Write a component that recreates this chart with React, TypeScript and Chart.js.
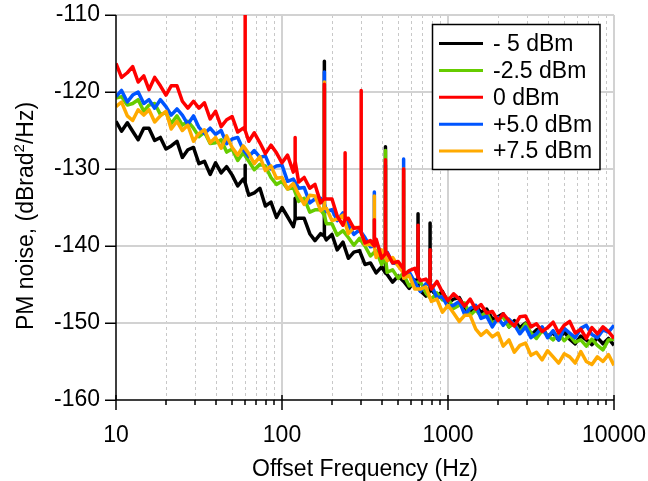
import React, { useEffect, useRef } from 'react';
import { Chart, registerables } from 'chart.js';

Chart.register(...registerables);

// ---------- data ----------
const FREQ = [
  10, 10.8, 11.7, 12.6, 13.6, 14.7, 15.8, 17.1, 18.5, 20, 21.5, 23.3, 25.1, 27.1, 29.3,
  31.6, 34.1, 36.9, 39.8, 43, 46.4, 50.1, 54.1, 58.4, 63.1, 68.1, 73.6, 79.4, 85.8, 92.6,
  100, 108, 117, 126, 136, 147, 158, 171, 185, 200, 215, 233, 251, 271, 293,
  316, 341, 369, 398, 430, 464, 501, 541, 584, 631, 681, 736, 794, 858, 926,
  1000, 1080, 1170, 1260, 1360, 1470, 1580, 1710, 1850, 2000, 2150, 2330, 2510, 2710, 2930,
  3160, 3410, 3690, 3980, 4300, 4640, 5010, 5410, 5840, 6310, 6810, 7360, 7940, 8580, 9260,
  10000,
];

const SERIES_LABELS = ['- 5 dBm', '-2.5 dBm', '0 dBm', '+5.0 dBm', '+7.5 dBm'];
const SERIES_COLORS = ['#000000', '#66cc00', '#ff0000', '#0055ff', '#ffaa00'];
// drawing order (lower = on top)
const SERIES_ORDER = [4, 3, 0, 2, 1];

const M5_DBM = [
  -123.8, -125.1, -124.0, -125.1, -126.2, -124.7, -124.7, -126.3, -125.9, -127.4, -127.0, -126.4, -128.5, -127.5, -127.2,
  -129.3, -129.0, -130.7, -129.2, -130.5, -129.7, -130.8, -132.2, -131.3, -133.4, -133.1, -132.5, -134.8, -134.3, -136.3,
  -135.0, -136.2, -137.5, -136.4, -136.4, -138.4, -139.3, -138.4, -139.2, -138.5, -140.5, -139.5, -141.6, -140.8, -140.6,
  -142.4, -142.2, -143.5, -142.7, -143.7, -144.7, -143.9, -144.6, -145.5, -144.4, -145.8, -146.5, -145.7, -146.5, -145.9,
  -147.4, -146.9, -146.7, -148.0, -148.7, -147.8, -148.6, -148.2, -149.5, -149.2, -148.8, -150.5, -149.7, -150.6, -150.0,
  -151.6, -150.9, -150.6, -151.7, -151.3, -152.2, -151.1, -152.1, -152.7, -151.7, -152.2, -152.8, -151.9, -152.7, -152.0,
  -152.9,
];

const M25_DBM = [
  -120.8, -120.6, -121.7, -121.5, -121.0, -122.5, -121.7, -121.5, -122.9, -122.7, -124.1, -123.1, -124.3, -123.8, -124.7,
  -125.8, -125.2, -126.7, -126.6, -126.2, -127.8, -127.4, -128.9, -127.9, -129.0, -130.1, -129.4, -129.6, -131.1, -132.0,
  -131.6, -132.6, -132.4, -134.2, -133.8, -135.6, -135.3, -135.3, -137.1, -137.1, -138.6, -138.0, -138.9, -139.9, -139.0,
  -140.0, -141.3, -140.6, -142.4, -143.4, -143.1, -144.2, -143.7, -145.2, -144.8, -144.6, -146.1, -146.9, -146.1, -147.0,
  -146.8, -148.1, -147.7, -147.4, -149.0, -148.3, -149.1, -148.6, -150.1, -149.5, -149.2, -150.5, -150.1, -151.2, -150.1,
  -151.3, -152.0, -151.0, -151.6, -152.2, -151.3, -152.3, -151.6, -152.5, -152.2, -153.0, -152.1, -152.9, -153.5, -152.2,
  -152.1,
];

const P0_DBM = [
  -116.3, -118.1, -117.5, -116.7, -118.7, -117.9, -119.7, -118.1, -119.2, -120.4, -119.2, -119.2, -121.2, -122.1, -121.2,
  -122.1, -121.4, -123.5, -122.5, -124.5, -123.6, -123.2, -125.2, -124.7, -126.4, -125.3, -126.6, -128.0, -126.9, -127.9,
  -129.2, -128.2, -130.4, -131.7, -131.1, -132.5, -132.0, -134.4, -133.9, -133.9, -136.1, -137.3, -136.4, -137.7, -137.6,
  -139.6, -139.3, -139.1, -141.6, -140.9, -142.2, -142.0, -143.8, -143.2, -142.9, -144.5, -144.3, -145.6, -144.6, -146.0,
  -147.1, -146.2, -146.9, -147.8, -146.9, -148.2, -147.6, -148.7, -148.5, -149.7, -148.8, -149.7, -150.4, -149.2, -149.1,
  -150.5, -150.1, -151.1, -150.6, -149.9, -151.3, -150.3, -149.8, -151.3, -150.8, -152.0, -150.6, -151.4, -150.5, -151.1,
  -152.0,
];

const P5_DBM = [
  -120.6, -119.8, -121.3, -120.4, -120.0, -121.5, -121.0, -122.1, -121.0, -121.9, -123.0, -122.2, -123.0, -124.2, -123.1,
  -124.6, -125.4, -124.7, -125.5, -125.0, -126.7, -126.1, -125.9, -127.5, -128.4, -127.6, -128.5, -128.3, -130.0, -129.6,
  -129.5, -131.6, -131.3, -132.5, -132.4, -134.4, -133.9, -133.8, -135.5, -135.3, -136.7, -135.7, -137.3, -138.5, -137.9,
  -138.9, -140.1, -139.5, -141.1, -140.8, -142.2, -142.3, -143.8, -143.4, -144.7, -145.9, -144.9, -145.1, -146.7, -146.6,
  -147.9, -147.7, -147.2, -148.9, -148.1, -147.7, -149.4, -149.1, -150.5, -149.3, -150.3, -149.5, -150.2, -151.4, -150.5,
  -151.9, -151.4, -150.5, -151.9, -151.0, -152.2, -150.7, -151.3, -151.9, -150.7, -150.3, -151.5, -151.9, -150.9, -151.2,
  -150.3,
];

const P75_DBM = [
  -121.9, -121.3, -123.1, -123.7, -122.3, -123.0, -122.3, -123.9, -123.1, -122.5, -124.8, -123.8, -125.0, -124.3, -126.4,
  -125.4, -124.9, -126.6, -125.9, -127.3, -125.7, -127.2, -128.2, -127.0, -128.0, -129.3, -128.4, -130.2, -129.6, -131.2,
  -131.1, -132.6, -131.9, -133.3, -134.6, -133.4, -133.5, -135.4, -135.1, -136.7, -136.5, -136.0, -138.4, -137.6, -137.6,
  -139.8, -139.8, -141.5, -140.5, -141.9, -141.5, -142.6, -144.2, -143.8, -145.6, -145.6, -145.3, -147.2, -146.9, -148.6,
  -147.7, -148.7, -149.8, -149.0, -149.0, -150.8, -151.6, -151.0, -151.8, -151.3, -153.0, -152.2, -153.8, -152.9, -152.6,
  -154.2, -153.8, -154.8, -153.6, -154.4, -155.2, -154.0, -154.4, -155.2, -153.7, -155.0, -155.4, -154.4, -155.0, -154.1,
  -155.5,
];

// spurs: [frequency, floor, peak]
const M5_SPURS = [[60, -131.8, -129.5], [120, -136.5, -133.8], [180, -138.7, -116.0], [420, -143.5, -127.1], [660, -145.3, -135.8], [780, -145.8, -137.0]];
const M25_SPURS = [[180, -136.0, -119.5], [420, -141.5, -127.6], [540, -143.5, -131.5]];
const P0_SPURS = [[60, -125.0, -108.0], [120, -129.0, -125.9], [180, -133.8, -119.0], [240, -136.5, -127.9], [300, -138.3, -119.8], [360, -140.0, -136.6], [420, -141.0, -128.8], [540, -143.0, -130.0], [660, -144.0, -137.3], [780, -145.0, -140.5]];
const P5_SPURS = [[180, -134.5, -117.4], [360, -140.0, -133.0], [420, -141.0, -129.5], [540, -143.0, -128.7]];
const P75_SPURS = [[180, -135.0, -118.7], [360, -140.0, -133.5], [420, -141.5, -129.8], [540, -143.5, -130.0]];

const SERIES_VALUES = [M5_DBM, M25_DBM, P0_DBM, P5_DBM, P75_DBM];
const SERIES_SPURS = [M5_SPURS, M25_SPURS, P0_SPURS, P5_SPURS, P75_SPURS];

const Y_TICKS = [-160, -150, -140, -130, -120, -110];
const X_MAJOR = [10, 100, 1000, 10000];
const X_MINOR = [20, 30, 40, 50, 60, 70, 80, 90, 200, 300, 400, 500, 600, 700, 800, 900, 2000, 3000, 4000, 5000, 6000, 7000, 8000, 9000];
const X_TITLE = 'Offset Frequency (Hz)';
const Y_TITLE_PARTS = ['PM noise, (dBrad', '2', '/Hz)'];

const FONT = '"Liberation Sans", Arial, sans-serif';

function buildPoints(values: number[], spurs: number[][]) {
  const pts: { x: number; y: number }[] = FREQ.map((f, i) => ({ x: f, y: values[i] }));
  spurs.forEach(([f, lo, hi]) => {
    pts.push({ x: f, y: lo }, { x: f, y: hi }, { x: f, y: lo });
  });
  return pts
    .map((p, i) => ({ p, i }))
    .sort((a, b) => (a.p.x - b.p.x) || (a.i - b.i))
    .map((o) => o.p);
}

const gridPlugin = {
  id: 'customGrid',
  beforeDatasetsDraw(chart: any) {
    const { ctx, chartArea, scales } = chart;
    const { left, right, top, bottom } = chartArea;
    const x = scales.x;
    const y = scales.y;
    ctx.save();
    ctx.setLineDash([3, 3]);
    ctx.strokeStyle = '#c8c8c8';
    ctx.lineWidth = 1;
    X_MINOR.forEach((f) => {
      const px = Math.round(x.getPixelForValue(f)) + 0.5;
      ctx.beginPath();
      ctx.moveTo(px, top);
      ctx.lineTo(px, bottom);
      ctx.stroke();
    });
    ctx.setLineDash([]);
    ctx.strokeStyle = '#d2d2d2';
    ctx.lineWidth = 2;
    X_MAJOR.slice(1).forEach((f) => {
      const px = Math.round(x.getPixelForValue(f));
      ctx.beginPath();
      ctx.moveTo(px, top);
      ctx.lineTo(px, bottom);
      ctx.stroke();
    });
    Y_TICKS.slice(1).forEach((v) => {
      const py = Math.round(y.getPixelForValue(v));
      ctx.beginPath();
      ctx.moveTo(left, py);
      ctx.lineTo(right, py);
      ctx.stroke();
    });
    ctx.restore();
  },
};

const axesPlugin = {
  id: 'customAxes',
  afterDatasetsDraw(chart: any) {
    const { ctx, chartArea, scales } = chart;
    const { left, top, bottom, right } = chartArea;
    const x = scales.x;
    const y = scales.y;
    ctx.save();
    ctx.strokeStyle = '#000';
    ctx.lineWidth = 1.5;
    ctx.beginPath();
    ctx.moveTo(left, top);
    ctx.lineTo(left, bottom);
    ctx.moveTo(left, bottom);
    ctx.lineTo(right, bottom);
    ctx.stroke();
    Y_TICKS.forEach((v) => {
      const py = Math.round(y.getPixelForValue(v)) + 0.25;
      ctx.beginPath();
      ctx.moveTo(left - 11, py);
      ctx.lineTo(left, py);
      ctx.stroke();
    });
    X_MAJOR.forEach((f) => {
      const px = Math.round(x.getPixelForValue(f));
      ctx.beginPath();
      ctx.moveTo(px, bottom - 5);
      ctx.lineTo(px, bottom + 10);
      ctx.stroke();
    });
    X_MINOR.forEach((f) => {
      const px = Math.round(x.getPixelForValue(f));
      ctx.beginPath();
      ctx.moveTo(px, bottom);
      ctx.lineTo(px, bottom + 5);
      ctx.stroke();
    });
    ctx.restore();
  },
  afterDraw(chart: any) {
    const { ctx } = chart;
    ctx.save();
    const big = `23px ${FONT}`;
    const small = `15px ${FONT}`;
    ctx.font = big;
    const w0 = ctx.measureText(Y_TITLE_PARTS[0]).width;
    const w2 = ctx.measureText(Y_TITLE_PARTS[2]).width;
    ctx.font = small;
    const w1 = ctx.measureText(Y_TITLE_PARTS[1]).width;
    const total = w0 + w1 + w2;
    ctx.translate(25, 216);
    ctx.rotate(-Math.PI / 2);
    ctx.fillStyle = '#000';
    ctx.textBaseline = 'alphabetic';
    ctx.textAlign = 'left';
    const base = 8;
    let cx = -total / 2;
    ctx.font = big;
    ctx.fillText(Y_TITLE_PARTS[0], cx, base);
    cx += w0;
    ctx.font = small;
    ctx.fillText(Y_TITLE_PARTS[1], cx, base - 9);
    cx += w1;
    ctx.font = big;
    ctx.fillText(Y_TITLE_PARTS[2], cx, base);
    ctx.restore();

    // legend
    ctx.save();
    const bx = 432.5;
    const by = 24.5;
    const bw = 167.5;
    const bh = 145;
    ctx.fillStyle = '#fff';
    ctx.fillRect(bx, by, bw, bh);
    ctx.strokeStyle = '#000';
    ctx.lineWidth = 1.5;
    ctx.strokeRect(bx, by, bw, bh);
    ctx.font = big;
    ctx.textBaseline = 'middle';
    ctx.textAlign = 'left';
    SERIES_LABELS.forEach((lab, i) => {
      const ry = 43.5 + i * 26.9;
      ctx.strokeStyle = SERIES_COLORS[i];
      ctx.lineWidth = 3;
      ctx.beginPath();
      ctx.moveTo(439, ry);
      ctx.lineTo(483, ry);
      ctx.stroke();
      ctx.fillStyle = '#000';
      ctx.fillText(lab, 493, ry + 1);
    });
    ctx.restore();
  },
};

export default function App() {
  const canvasRef = useRef<HTMLCanvasElement | null>(null);

  useEffect(() => {
    if (!canvasRef.current) return;
    const datasets = SERIES_LABELS.map((label, i) => ({
      label,
      data: buildPoints(SERIES_VALUES[i], SERIES_SPURS[i]),
      borderColor: SERIES_COLORS[i],
      backgroundColor: SERIES_COLORS[i],
      borderWidth: 3.5,
      pointRadius: 0,
      tension: 0,
      borderJoinStyle: 'round' as const,
      order: SERIES_ORDER[i],
    }));
    const chart = new Chart(canvasRef.current, {
      type: 'line',
      data: { datasets },
      options: {
        animation: false,
        responsive: false,
        maintainAspectRatio: false,
        layout: { padding: { top: 15, right: 34, left: 0, bottom: 0 } },
        plugins: { legend: { display: false }, tooltip: { enabled: false } },
        scales: {
          x: {
            type: 'logarithmic',
            min: 10,
            max: 10000,
            afterBuildTicks: (scale: any) => {
              scale.ticks = X_MAJOR.map((v) => ({ value: v }));
            },
            afterFit: (scale: any) => {
              scale.height = 81;
              scale.paddingLeft = 0;
              scale.paddingRight = 0;
            },
            grid: { display: false, drawTicks: false },
            border: { display: false },
            ticks: {
              autoSkip: false,
              maxRotation: 0,
              padding: 22,
              color: '#000',
              font: { family: FONT, size: 23 },
              callback: (v: any) => String(v),
            },
            title: {
              display: true,
              text: X_TITLE,
              color: '#000',
              font: { family: FONT, size: 23, lineHeight: 1 },
              padding: 0,
            },
          },
          y: {
            type: 'linear',
            min: -160,
            max: -110,
            afterBuildTicks: (scale: any) => {
              scale.ticks = Y_TICKS.map((v) => ({ value: v }));
            },
            afterFit: (scale: any) => {
              scale.width = 116;
              scale.paddingTop = 0;
              scale.paddingBottom = 0;
            },
            grid: { display: false, drawTicks: false },
            border: { display: false },
            ticks: {
              padding: 16,
              color: '#000',
              font: { family: FONT, size: 23 },
            },
          },
        },
      },
      plugins: [gridPlugin, axesPlugin],
    });
    return () => chart.destroy();
  }, []);

  return (
    <div style={{ position: 'absolute', left: 0, top: 0, width: 648, height: 481, background: '#fff' }}>
      <canvas ref={canvasRef} width={648} height={481} style={{ display: 'block' }} />
    </div>
  );
}
